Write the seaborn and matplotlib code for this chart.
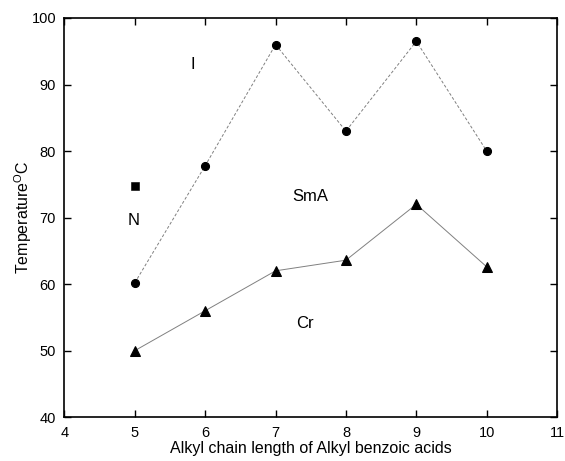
import seaborn as sns
import pandas as pd
import matplotlib.pyplot as plt

# chain lengths and transition temperatures
chain = [5, 6, 7, 8, 9, 10]
iso_temp = [60.2, 77.8, 96.0, 83.0, 96.5, 80.0]
cr_temp = [50.0, 56.0, 62.0, 63.6, 72.0, 62.6]
nem_chain = [5]
nem_temp = [74.7]

phase_labels = ["I", "SmA", "N", "Cr"]
phase_x = [5.83, 7.5, 4.98, 7.42]
phase_y = [93.0, 73.2, 69.6, 54.1]

sns.set_style("ticks")
plt.rcParams['font.family'] = ['Liberation Sans', 'DejaVu Sans']
plt.rcParams['mathtext.fontset'] = 'custom'
plt.rcParams['mathtext.rm'] = 'Liberation Sans'
plt.rcParams['text.color'] = 'black'
plt.rcParams['axes.labelcolor'] = 'black'
plt.rcParams['xtick.color'] = 'black'
plt.rcParams['ytick.color'] = 'black'

df_iso = pd.DataFrame({"chain": chain, "temp": iso_temp})
df_cr = pd.DataFrame({"chain": chain, "temp": cr_temp})
df_n = pd.DataFrame({"chain": nem_chain, "temp": nem_temp})

fig, ax = plt.subplots(figsize=(5.65, 4.61), dpi=100)

sns.lineplot(data=df_iso, x="chain", y="temp", ax=ax, color="gray", lw=0.7,
             linestyle=(0, (3, 2)), marker="o", markersize=5.8,
             markerfacecolor="black", markeredgecolor="black")
sns.lineplot(data=df_cr, x="chain", y="temp", ax=ax, color="gray", lw=0.7,
             marker="^", markersize=7,
             markerfacecolor="black", markeredgecolor="black")
sns.scatterplot(data=df_n, x="chain", y="temp", ax=ax, marker="s", s=26,
                color="black", edgecolor="black")

for lab, x, y in zip(phase_labels, phase_x, phase_y):
    ax.text(x, y, lab, fontsize=12, ha="center", va="center")

ax.set_xlim(4, 11)
ax.set_ylim(40, 100)
ax.set_xticks(range(4, 12))
ax.set_yticks(range(40, 101, 10))
ax.tick_params(direction="in", top=True, right=True, length=5, width=1,
               labelsize=10.5, pad=6)
for s in ax.spines.values():
    s.set_linewidth(1.2)
    s.set_color("black")

ax.set_xlabel("Alkyl chain length of Alkyl benzoic acids", fontsize=11.5, labelpad=1)
ax.set_ylabel("Temperature$^{\\mathrm{O}}$C", fontsize=11.5)
ax.yaxis.set_label_coords(-0.061, 0.5)

plt.subplots_adjust(left=0.114, right=0.986, top=0.961, bottom=0.095)
plt.savefig("out.png", dpi=100)
plt.close()
